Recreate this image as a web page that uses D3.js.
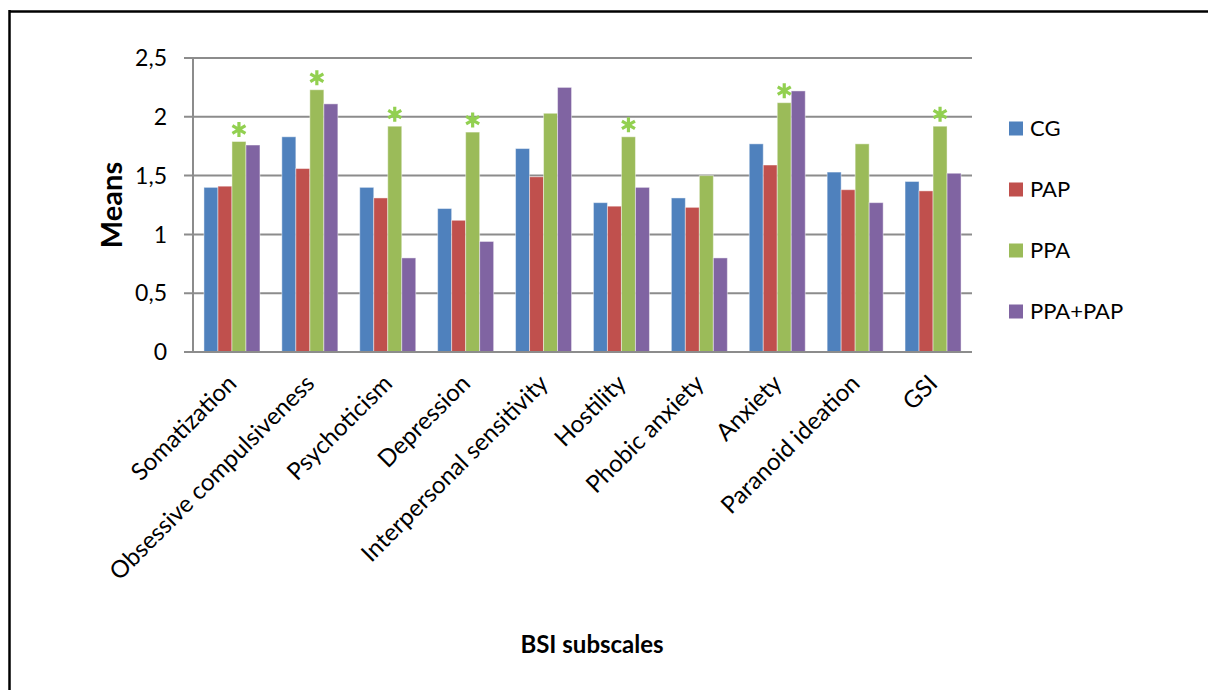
<!DOCTYPE html>
<html>
<head>
<meta charset="utf-8">
<script src="https://cdn.jsdelivr.net/npm/d3@7"></script>
<style>
  html, body { margin: 0; padding: 0; background: #fff; }
  svg { display: block; }
  text { font-family: Lato, "Open Sans", sans-serif; fill: #000; }
</style>
</head>
<body>
<svg id="chart" width="1208" height="690"></svg>
<script>
// BSI subscale means per group
const categories = ["Somatization", "Obsessive compulsiveness", "Psychoticism", "Depression",
  "Interpersonal sensitivity", "Hostility", "Phobic anxiety", "Anxiety", "Paranoid ideation", "GSI"];
const seriesNames = ["CG", "PAP", "PPA", "PPA+PAP"];
const cgValues     = [1.40, 1.83, 1.40, 1.22, 1.73, 1.27, 1.31, 1.77, 1.53, 1.45];
const papValues    = [1.41, 1.56, 1.31, 1.12, 1.49, 1.24, 1.23, 1.59, 1.38, 1.37];
const ppaValues    = [1.79, 2.23, 1.92, 1.87, 2.03, 1.83, 1.50, 2.12, 1.77, 1.92];
const ppaPapValues = [1.76, 2.11, 0.80, 0.94, 2.25, 1.40, 0.80, 2.22, 1.27, 1.52];
// subscales with a significant PPA difference, marked with an asterisk
const significant = ["Somatization", "Obsessive compulsiveness", "Psychoticism", "Depression",
  "Hostility", "Anxiety", "GSI"];
const yTicks = [0, 0.5, 1, 1.5, 2, 2.5];

const seriesValues = [cgValues, papValues, ppaValues, ppaPapValues];
const colors = ["#4F81BD", "#C0504D", "#9BBB59", "#8064A2"];

const svg = d3.select("#chart");

// frame
svg.append("line").attr("x1", 9).attr("x2", 1208).attr("y1", 11.5).attr("y2", 11.5)
  .attr("stroke", "#000").attr("stroke-width", 2.5);
svg.append("line").attr("x1", 9.5).attr("x2", 9.5).attr("y1", 10).attr("y2", 690)
  .attr("stroke", "#000").attr("stroke-width", 2.5);

const plot = { left: 193, right: 972, top: 58, bottom: 352 };

const x = d3.scaleBand().domain(categories)
  .range([plot.left, plot.right]).paddingInner(0.281).paddingOuter(0.1405);
const xs = d3.scaleBand().domain(seriesNames).range([0, x.bandwidth()]);
const y = d3.scaleLinear().domain([0, 2.5]).range([plot.bottom, plot.top]);

const fmt = v => d3.format("~g")(v).replace(".", ",");

// gridlines
svg.append("g").selectAll("line").data(yTicks).join("line")
  .attr("x1", plot.left - 9).attr("x2", plot.right)
  .attr("y1", d => y(d)).attr("y2", d => y(d))
  .attr("stroke", "#8c8c8c").attr("stroke-width", 2);

// y axis line
svg.append("line").attr("x1", plot.left).attr("x2", plot.left)
  .attr("y1", plot.top).attr("y2", plot.bottom)
  .attr("stroke", "#8c8c8c").attr("stroke-width", 2);

// y tick labels
svg.append("g").selectAll("text").data(yTicks).join("text")
  .attr("x", 167).attr("y", d => y(d)).attr("dy", "0.36em")
  .attr("text-anchor", "end").style("font-size", "23px")
  .text(fmt);

// bars
const rows = categories.map((c, i) => ({ cat: c, vals: seriesValues.map((s, j) => ({ key: seriesNames[j], v: s[i], color: colors[j] })) }));
const groups = svg.append("g").selectAll("g").data(rows).join("g")
  .attr("transform", d => `translate(${x(d.cat)},0)`);
groups.selectAll("rect").data(d => d.vals).join("rect")
  .attr("x", d => xs(d.key)).attr("width", xs.bandwidth())
  .attr("y", d => y(d.v)).attr("height", d => y(0) - y(d.v))
  .attr("fill", d => d.color)
  .attr("stroke", "rgba(255,255,255,0.45)").attr("stroke-width", 1);

// baseline over the bars
svg.append("line").attr("x1", plot.left - 9).attr("x2", plot.right)
  .attr("y1", y(0)).attr("y2", y(0)).attr("stroke", "#8c8c8c").attr("stroke-width", 2);

// significance asterisks above PPA bars
const star = d3.symbol().type(d3.symbolAsterisk).size(160);
svg.append("g").selectAll("path").data(significant).join("path")
  .attr("d", star)
  .attr("transform", c => {
    const i = categories.indexOf(c);
    return `translate(${x(c) + xs("PPA") + xs.bandwidth() / 2},${y(ppaValues[i]) - 12})`;
  })
  .attr("fill", "none").attr("stroke", "#92D050").attr("stroke-width", 3.2);

// category labels
svg.append("g").selectAll("text").data(categories).join("text")
  .attr("transform", c => `translate(${x(c) + x.bandwidth() / 2 + 6},385) rotate(-45)`)
  .attr("text-anchor", "end").style("font-size", "24px")
  .text(c => c);

// axis titles
svg.append("text").attr("transform", "translate(122,205) rotate(-90)")
  .attr("text-anchor", "middle").style("font-size", "29px").style("font-weight", "bold")
  .text("Means");
svg.append("text").attr("x", 592).attr("y", 653)
  .attr("text-anchor", "middle").style("font-size", "24px").style("font-weight", "bold")
  .text("BSI subscales");

// legend
const legend = svg.append("g").selectAll("g").data(seriesNames).join("g")
  .attr("transform", (d, i) => `translate(1009,${128.5 + i * 61})`);
legend.append("rect").attr("x", 0).attr("y", -7).attr("width", 14).attr("height", 14)
  .attr("fill", (d, i) => colors[i]);
legend.append("text").attr("x", 21).attr("dy", "0.36em").style("font-size", "22px")
  .text(d => d);
</script>
</body>
</html>
